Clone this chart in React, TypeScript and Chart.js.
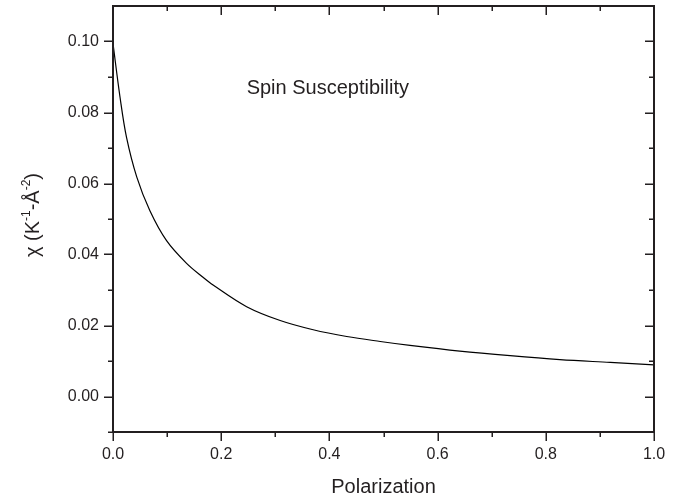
import React, { useEffect, useRef } from "react";
import { Chart, registerables } from "chart.js";

Chart.register(...registerables);

const POLARIZATION = [0, 0.013, 0.025, 0.044, 0.068, 0.099, 0.136, 0.167, 0.185, 0.247, 0.309, 0.37, 0.432, 0.494, 0.549, 0.641, 0.734, 0.826, 0.919, 1.0];
const CHI = [0.0994, 0.0843, 0.073, 0.0618, 0.0524, 0.0439, 0.0375, 0.0335, 0.0314, 0.0253, 0.0214, 0.0188, 0.0169, 0.0155, 0.0144, 0.0128, 0.0115, 0.0104, 0.0096, 0.0089];

const X_TICKS = [0, 0.2, 0.4, 0.6, 0.8, 1.0];
const X_MINOR = [0.1, 0.3, 0.5, 0.7, 0.9];
const Y_TICKS = [0, 0.02, 0.04, 0.06, 0.08, 0.1];
const Y_MINOR = [-0.01, 0.01, 0.03, 0.05, 0.07, 0.09];

const X_TITLE = "Polarization";
const ANNOTATION = "Spin Susceptibility";

const INK = "#231f20";
const FONT = "'Liberation Sans', Arial, sans-serif";

const framePlugin = {
  id: "frame",
  afterDraw(chart: any) {
    const { ctx, chartArea: a, scales } = chart;
    const xs = scales.x;
    const ys = scales.y;
    ctx.save();
    ctx.strokeStyle = INK;
    ctx.lineWidth = 2;
    ctx.strokeRect(a.left, a.top, a.right - a.left, a.bottom - a.top);
    const MAJ = 9;
    const MIN = 5;
    ctx.lineWidth = 1.5;
    ctx.beginPath();
    const xTick = (v: number, len: number) => {
      const px = Math.round(xs.getPixelForValue(v)) + 0.25;
      ctx.moveTo(px, a.bottom);
      ctx.lineTo(px, a.bottom + len);
      ctx.moveTo(px, a.top);
      ctx.lineTo(px, a.top + len);
    };
    const yTick = (v: number, len: number) => {
      const py = Math.round(ys.getPixelForValue(v)) + 0.25;
      ctx.moveTo(a.left - len, py);
      ctx.lineTo(a.left, py);
      ctx.moveTo(a.right - len, py);
      ctx.lineTo(a.right, py);
    };
    X_TICKS.forEach((v) => xTick(v, MAJ));
    X_MINOR.forEach((v) => xTick(v, MIN));
    Y_TICKS.forEach((v) => yTick(v, MAJ));
    Y_MINOR.forEach((v) => yTick(v, MIN));
    ctx.stroke();

    ctx.fillStyle = INK;
    ctx.font = `20px ${FONT}`;
    ctx.textBaseline = "alphabetic";
    ctx.textAlign = "center";
    ctx.fillText(X_TITLE, (a.left + a.right) / 2, 493);
    ctx.textAlign = "left";
    ctx.fillText(ANNOTATION, xs.getPixelForValue(0.247), ys.getPixelForValue(0.0853));

    // y-axis title with superscripts
    const parts: [string, boolean][] = [
      ["\u03c7 (K", false],
      ["-1", true],
      ["-\u00c5", false],
      ["-2", true],
      [")", false],
    ];
    const big = `20px ${FONT}`;
    const small = `12px ${FONT}`;
    let total = 0;
    parts.forEach(([t, sup]) => {
      ctx.font = sup ? small : big;
      total += ctx.measureText(t).width;
    });
    ctx.translate(39, 215);
    ctx.rotate(-Math.PI / 2);
    let x = -total / 2;
    parts.forEach(([t, sup]) => {
      ctx.font = sup ? small : big;
      ctx.fillText(t, x, sup ? -9 : 0);
      x += ctx.measureText(t).width;
    });
    ctx.restore();
  },
};

export default function App() {
  const ref = useRef<HTMLCanvasElement | null>(null);
  useEffect(() => {
    if (!ref.current) return;
    const chart = new Chart(ref.current, {
      type: "scatter",
      data: {
        datasets: [
          {
            label: "chi",
            data: POLARIZATION.map((p, i) => ({ x: p, y: CHI[i] })),
            showLine: true,
            borderColor: "#000",
            borderWidth: 1.2,
            pointRadius: 0,
            tension: 0.35,
            fill: false,
          } as any,
        ],
      },
      options: {
        animation: false,
        responsive: false,
        devicePixelRatio: 1,
        layout: { padding: { left: 0, right: 27, top: 6, bottom: 0 } },
        plugins: { legend: { display: false }, tooltip: { enabled: false } },
        scales: {
          x: {
            type: "linear",
            min: 0,
            max: 1,
            grid: { display: false, drawTicks: false },
            border: { display: false },
            afterBuildTicks: (s: any) => {
              s.ticks = X_TICKS.map((v) => ({ value: v }));
            },
            afterFit: (s: any) => {
              s.height = 68;
              s.paddingLeft = 0;
              s.paddingRight = 0;
            },
            ticks: {
              padding: 13,
              color: INK,
              font: { size: 16, family: FONT },
              maxRotation: 0,
              callback: (v: any) => Number(v).toFixed(1),
            },
          },
          y: {
            type: "linear",
            min: -0.01,
            max: 0.11,
            grid: { display: false, drawTicks: false },
            border: { display: false },
            afterBuildTicks: (s: any) => {
              s.ticks = Y_TICKS.map((v) => ({ value: v }));
            },
            afterFit: (s: any) => {
              s.width = 113;
              s.paddingTop = 0;
              s.paddingBottom = 0;
            },
            ticks: {
              padding: 14,
              color: INK,
              font: { size: 16, family: FONT },
              callback: (v: any) => Number(v).toFixed(2),
            },
          },
        },
      },
      plugins: [framePlugin],
    });
    return () => chart.destroy();
  }, []);
  return (
    <div style={{ position: "fixed", left: 0, top: 0, width: 681, height: 500, background: "#fff" }}>
      <canvas ref={ref} width={681} height={500} />
    </div>
  );
}
